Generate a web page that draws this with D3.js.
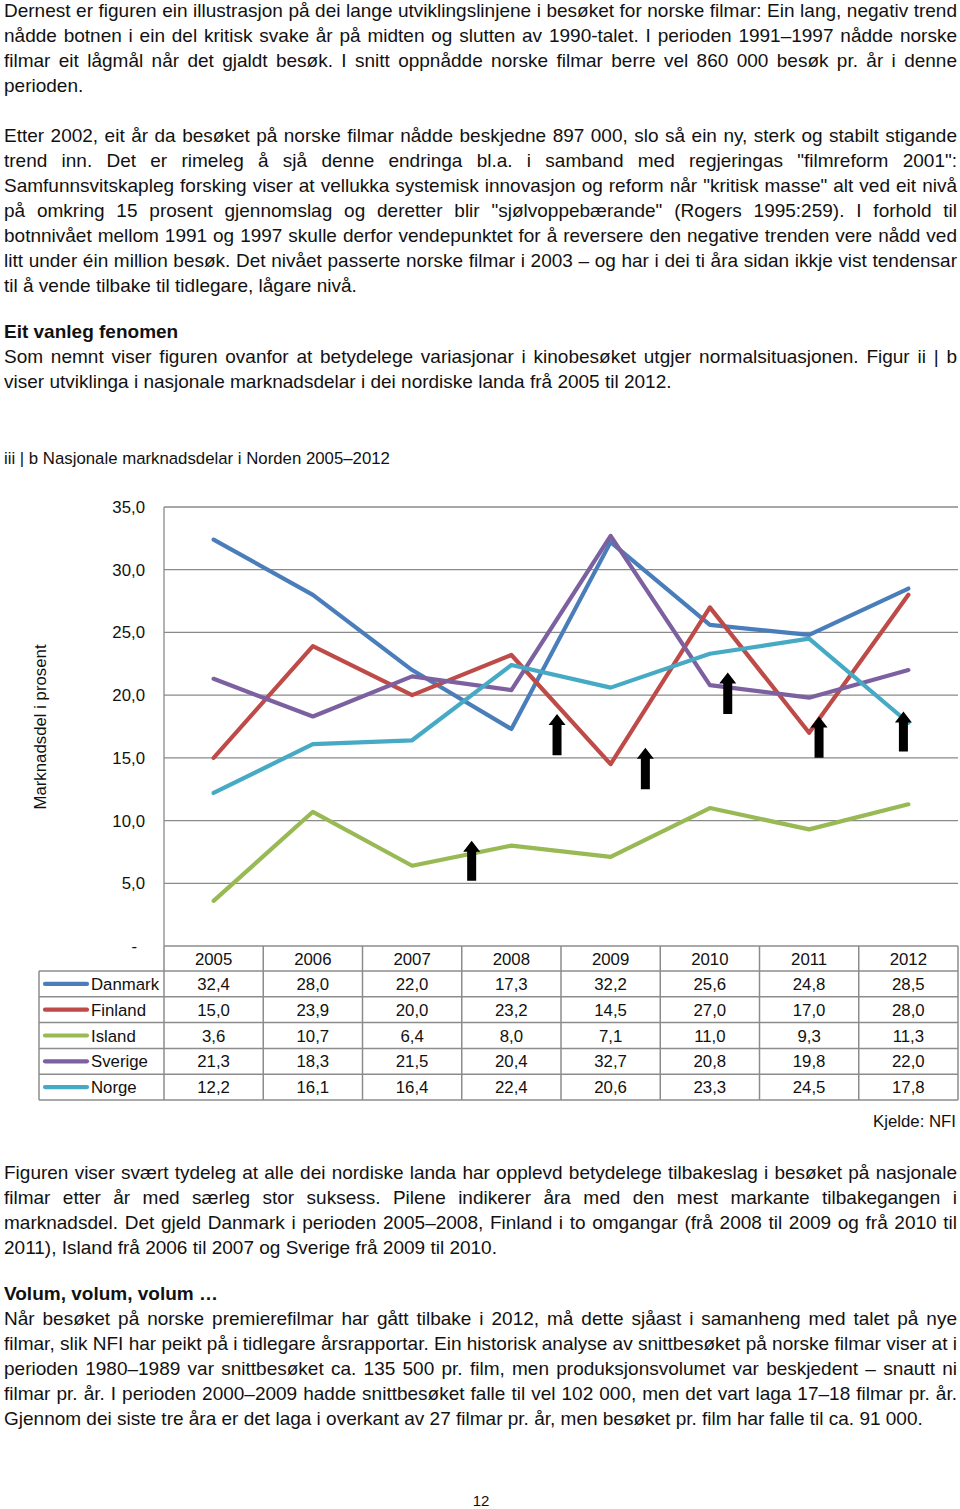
<!DOCTYPE html>
<html><head><meta charset="utf-8">
<script src="https://cdn.jsdelivr.net/npm/d3@7"></script>
<style>html,body{margin:0;padding:0;background:#fff}</style>
</head><body>
<script>
// ---- data ----
const years = ["2005","2006","2007","2008","2009","2010","2011","2012"];
const countries = ["Danmark","Finland","Island","Sverige","Norge"];
const danmark = [32.4,28.0,22.0,17.3,32.2,25.6,24.8,28.5];
const finland = [15.0,23.9,20.0,23.2,14.5,27.0,17.0,28.0];
const island  = [3.6,10.7,6.4,8.0,7.1,11.0,9.3,11.3];
const sverige = [21.3,18.3,21.5,20.4,32.7,20.8,19.8,22.0];
const norge   = [12.2,16.1,16.4,22.4,20.6,23.3,24.5,17.8];
const seriesValues = [danmark, finland, island, sverige, norge];
const colors = ["#4A7EBB","#BE4B48","#98B954","#7D60A0","#46AAC5"];
const yTicks = [0,5,10,15,20,25,30,35];
// arrows: position in year-index units, base and tip values
const arrowPos  = [2.6, 3.46, 4.35, 5.18, 6.1, 6.95];
const arrowBase = [5.2, 15.2, 12.5, 18.5, 15.0, 15.5];
const arrowTip  = [8.4, 18.5, 15.8, 21.8, 18.3, 18.7];

const chartTitle = "iii | b Nasjonale marknadsdelar i Norden 2005–2012";
const yAxisTitle = "Marknadsdel i prosent";
const sourceText = "Kjelde: NFI";

// text blocks: [text, baseline, justify, bold]
const textLines = [
 ["Dernest er figuren ein illustrasjon på dei lange utviklingslinjene i besøket for norske filmar: Ein lang, negativ trend", 17, true],
 ["nådde botnen i ein del kritisk svake år på midten og slutten av 1990-talet. I perioden 1991–1997 nådde norske", 42, true],
 ["filmar eit lågmål når det gjaldt besøk. I snitt oppnådde norske filmar berre vel 860 000 besøk pr. år i denne", 67, true],
 ["perioden.", 92, false],
 ["Etter 2002, eit år da besøket på norske filmar nådde beskjedne 897 000, slo så ein ny, sterk og stabilt stigande", 142, true],
 ["trend inn. Det er rimeleg å sjå denne endringa bl.a. i samband med regjeringas \"filmreform 2001\":", 167, true],
 ["Samfunnsvitskapleg forsking viser at vellukka systemisk innovasjon og reform når \"kritisk masse\" alt ved eit nivå", 192, true],
 ["på omkring 15 prosent gjennomslag og deretter blir \"sjølvoppebærande\" (Rogers 1995:259). I forhold til", 217, true],
 ["botnnivået mellom 1991 og 1997 skulle derfor vendepunktet for å reversere den negative trenden vere nådd ved", 242, true],
 ["litt under éin million besøk. Det nivået passerte norske filmar i 2003 – og har i dei ti åra sidan ikkje vist tendensar", 267, true],
 ["til å vende tilbake til tidlegare, lågare nivå.", 292, false],
 ["Eit vanleg fenomen", 338, false, true],
 ["Som nemnt viser figuren ovanfor at betydelege variasjonar i kinobesøket utgjer normalsituasjonen. Figur ii | b", 363, true],
 ["viser utviklinga i nasjonale marknadsdelar i dei nordiske landa frå 2005 til 2012.", 388, false],
 ["Figuren viser svært tydeleg at alle dei nordiske landa har opplevd betydelege tilbakeslag i besøket på nasjonale", 1179, true],
 ["filmar etter år med særleg stor suksess. Pilene indikerer åra med den mest markante tilbakegangen i", 1204, true],
 ["marknadsdel. Det gjeld Danmark i perioden 2005–2008, Finland i to omgangar (frå 2008 til 2009 og frå 2010 til", 1229, true],
 ["2011), Island frå 2006 til 2007 og Sverige frå 2009 til 2010.", 1254, false],
 ["Volum, volum, volum …", 1300, false, true],
 ["Når besøket på norske premierefilmar har gått tilbake i 2012, må dette sjåast i samanheng med talet på nye", 1325, true],
 ["filmar, slik NFI har peikt på i tidlegare årsrapportar. Ein historisk analyse av snittbesøket på norske filmar viser at i", 1350, true],
 ["perioden 1980–1989 var snittbesøket ca. 135 500 pr. film, men produksjonsvolumet var beskjedent – snautt ni", 1375, true],
 ["filmar pr. år. I perioden 2000–2009 hadde snittbesøket falle til vel 102 000, men det vart laga 17–18 filmar pr. år.", 1400, true],
 ["Gjennom dei siste tre åra er det laga i overkant av 27 filmar pr. år, men besøket pr. film har falle til ca. 91 000.", 1425, false]
];

// ---- drawing ----
const W = 960, H = 1509;
const FONT = "'Liberation Sans', Arial, Helvetica, sans-serif";
const svg = d3.select("body").append("svg").attr("width", W).attr("height", H)
  .style("display","block").attr("font-family", FONT);
svg.append("rect").attr("width",W).attr("height",H).attr("fill","#fff");

const textX0 = 4, textX1 = 957;
textLines.forEach(([str, y, justify, bold]) => {
  const t = svg.append("text").attr("x", textX0).attr("y", y)
    .attr("font-size", 19).attr("fill", "#111")
    .attr("font-weight", bold ? "bold" : "normal").text(str);
  if (justify) {
    const w = t.node().getComputedTextLength();
    const spaces = (str.match(/ /g) || []).length;
    if (spaces) t.style("word-spacing", ((textX1 - textX0 - w) / spaces) + "px");
  }
});

// chart title
svg.append("text").attr("x", 4).attr("y", 464).attr("font-size", 16.8).attr("fill","#111").text(chartTitle);

const plotL = 164, plotR = 958, plotT = 507, plotB = 946;
const x = d3.scaleLinear().domain([-0.5, years.length - 0.5]).range([plotL, plotR]);
const y = d3.scaleLinear().domain([0, 35]).range([plotB, plotT]);
const gridColor = "#8a8a8a";

// gridlines
svg.append("g").selectAll("line").data(yTicks.filter(d => d > 0)).join("line")
  .attr("x1", plotL).attr("x2", plotR).attr("y1", d => y(d)).attr("y2", d => y(d))
  .attr("stroke", gridColor).attr("stroke-width", 1.3);
// left axis
svg.append("line").attr("x1", plotL).attr("x2", plotL).attr("y1", plotT).attr("y2", plotB)
  .attr("stroke", gridColor).attr("stroke-width", 1.3);

// y tick labels
const fmt = d => d === 0 ? "-" : d3.format(".1f")(d).replace(".", ",");
svg.append("g").selectAll("text").data(yTicks).join("text")
  .attr("x", d => d === 0 ? 137 : 145).attr("y", d => y(d) + 6)
  .attr("text-anchor", "end").attr("font-size", 16.8).attr("fill","#111").text(fmt);

// y axis title
svg.append("text").attr("transform", "translate(46,727) rotate(-90)")
  .attr("text-anchor", "middle").attr("font-size", 16.8).attr("fill","#111").text(yAxisTitle);

// lines
const line = d3.line().x((d, i) => x(i)).y(d => y(d));
svg.append("g").selectAll("path").data(seriesValues).join("path")
  .attr("d", line).attr("fill", "none")
  .attr("stroke", (d, i) => colors[i]).attr("stroke-width", 4.2)
  .attr("stroke-linejoin", "round").attr("stroke-linecap", "round");

// arrows
const arrowData = arrowPos.map((p, i) => ({p, b: arrowBase[i], t: arrowTip[i]}));
svg.append("g").selectAll("path").data(arrowData).join("path")
  .attr("d", d => {
    const cx = x(d.p), yb = y(d.b), yt = y(d.t);
    const sw = 4.5, hw = 8.5, hh = 11;
    return `M${cx - sw},${yb} L${cx - sw},${yt + hh} L${cx - hw},${yt + hh} L${cx},${yt} L${cx + hw},${yt + hh} L${cx + sw},${yt + hh} L${cx + sw},${yb} Z`;
  })
  .attr("fill", "#000");

// table
const tableL = 39, rowH = 25.8, headT = plotB, headB = 971;
const tableColor = "#8c8c8c";
const tbl = svg.append("g");
tbl.append("line").attr("x1", plotL).attr("x2", plotR).attr("y1", headT).attr("y2", headT)
  .attr("stroke", tableColor).attr("stroke-width", 1.5);
const rowTops = countries.map((c, i) => headB + i * rowH);
const tableB = headB + countries.length * rowH;
tbl.selectAll("line.h").data([headB, ...rowTops.slice(1), tableB]).join("line").attr("class","h")
  .attr("x1", tableL).attr("x2", plotR).attr("y1", d => d).attr("y2", d => d)
  .attr("stroke", tableColor).attr("stroke-width", 1.5);
const colEdges = d3.range(years.length + 1).map(i => x(i - 0.5));
tbl.selectAll("line.v").data(colEdges).join("line").attr("class","v")
  .attr("x1", d => d).attr("x2", d => d).attr("y1", headT).attr("y2", tableB)
  .attr("stroke", tableColor).attr("stroke-width", 1.5);
tbl.append("line").attr("x1", tableL).attr("x2", tableL).attr("y1", headB).attr("y2", tableB)
  .attr("stroke", tableColor).attr("stroke-width", 1.5);
tbl.selectAll("text.yr").data(years).join("text").attr("class","yr")
  .attr("x", (d, i) => x(i)).attr("y", (headT + headB) / 2 + 6)
  .attr("text-anchor", "middle").attr("font-size", 16.8).attr("fill","#111").text(d => d);
countries.forEach((c, r) => {
  const cy = rowTops[r] + rowH / 2;
  tbl.append("line").attr("x1", 45).attr("x2", 87).attr("y1", cy).attr("y2", cy)
    .attr("stroke", colors[r]).attr("stroke-width", 4.2).attr("stroke-linecap", "round");
  tbl.append("text").attr("x", 91).attr("y", cy + 6).attr("font-size", 16.8).attr("fill","#111").text(c);
  tbl.selectAll(null).data(seriesValues[r]).join("text")
    .attr("x", (d, i) => x(i)).attr("y", cy + 6).attr("text-anchor", "middle")
    .attr("font-size", 16.8).attr("fill","#111")
    .text(d => d3.format(".1f")(d).replace(".", ","));
});

// source
svg.append("text").attr("x", 956).attr("y", 1127).attr("text-anchor", "end")
  .attr("font-size", 16.8).attr("fill","#111").text(sourceText);

// page number
svg.append("text").attr("x", 481).attr("y", 1506).attr("text-anchor", "middle")
  .attr("font-size", 15).attr("fill","#111").text("12");
</script>
</body></html>
